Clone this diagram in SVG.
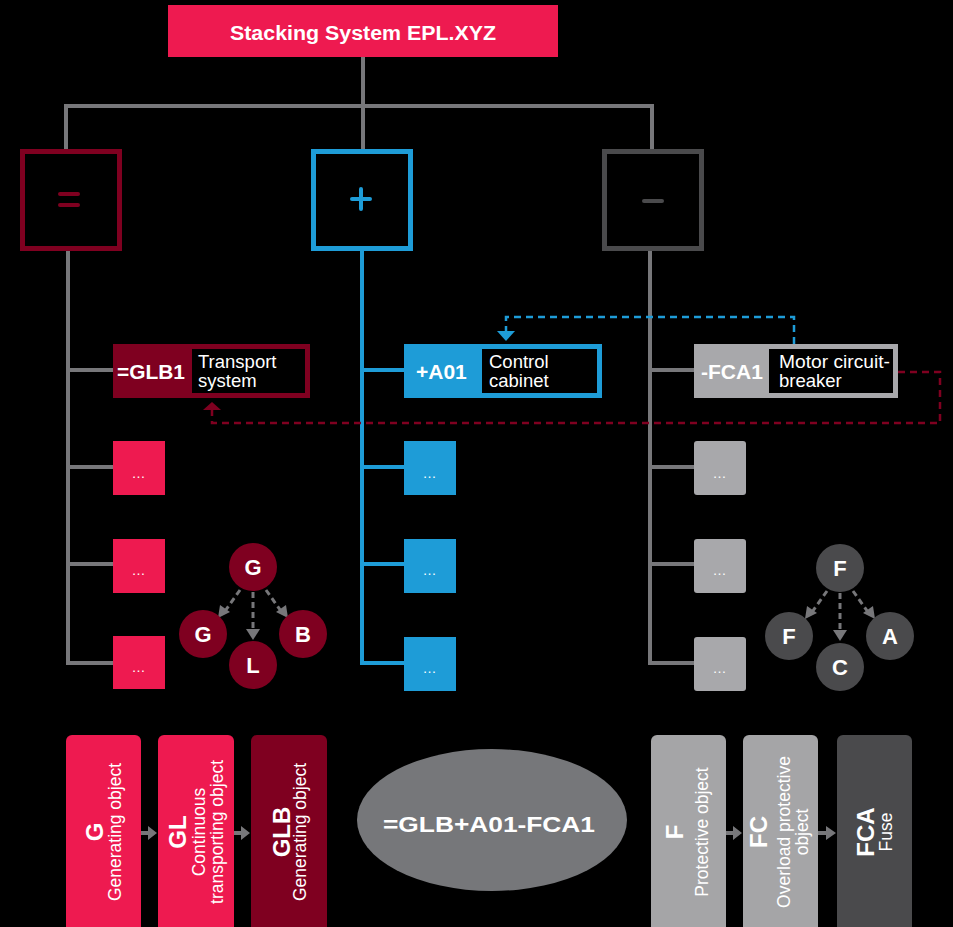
<svg xmlns="http://www.w3.org/2000/svg" width="953" height="927" viewBox="0 0 953 927">
<style>
text{font-family:"Liberation Sans",Arial,sans-serif;fill:#fff}
.b{font-weight:bold}
.ln{fill:none;stroke:#77777a;stroke-width:4}
.lb{fill:none;stroke:#1e9cd7;stroke-width:4}
.red{fill:#7f0020}
.pink{fill:#ee1a50}
.blue{fill:#1e9cd7}
.lg{fill:#a8a8ab}
.dg{fill:#4a4a4c}
.lbl{font-size:21px;font-weight:bold}
.desc{font-size:18.5px}
.dots{font-size:14px;text-anchor:middle;letter-spacing:1px}
.circ{font-size:22px;font-weight:bold;text-anchor:middle}
.rot{text-anchor:middle}
</style>
<rect width="953" height="927" fill="#000"/>

<g id="connectors">
<path class="ln" d="M363,57V106M66,150V106H652V150M363,106V150"/>
<path class="ln" d="M68,251V663H113M68,370H113M68,467H113M68,564H113"/>
<path class="lb" d="M362,251V663H404M362,370H404M362,467H404M362,564H404"/>
<path class="ln" d="M650,251V663H694M650,370H694M650,467H694M650,564H694"/>
<path d="M794,344V317H506V332" fill="none" stroke="#1e9cd7" stroke-width="2.5" stroke-dasharray="7,5"/>
<path d="M497,331L515,331L506,341z" fill="#1e9cd7"/>
<path d="M898,372H940V423H212V410" fill="none" stroke="#7f0020" stroke-width="2.5" stroke-dasharray="7,5"/>
<path d="M203,410L221,410L212,402z" fill="#7f0020"/>
<g stroke="#77777a" stroke-width="3" stroke-dasharray="6,4" fill="none">
<path d="M240,590L225,611"/><path d="M253,592V629"/><path d="M266,590L281,611"/>
<path d="M827,591L812,612"/><path d="M840,593V630"/><path d="M853,591L868,612"/>
</g>
<g fill="#77777a">
<path d="M218,618L220,605L230,612z"/><path d="M246,629L260,629L253,640z"/><path d="M288,618L286,605L276,612z"/>
<path d="M805,619L807,606L817,613z"/><path d="M833,630L847,630L840,641z"/><path d="M875,619L873,606L863,613z"/>
</g>
<g fill="#77777a">
<path d="M141,831H148V826L157,833L148,840V835H141z"/>
<path d="M234,831H241V826L250,833L241,840V835H234z"/>
<path d="M726,831H733V826L742,833L733,840V835H726z"/>
<path d="M818,831H826V826L836,833L826,840V835H818z"/>
</g>
</g>

<g id="root">
<rect x="168" y="5" width="390" height="52" class="pink"/>
<text x="363" y="40" class="b" font-size="20" text-anchor="middle" textLength="266" lengthAdjust="spacingAndGlyphs">Stacking System EPL.XYZ</text>
</g>

<g id="eq">
<rect x="22.5" y="151.5" width="97" height="97" fill="none" stroke="#7f0020" stroke-width="5"/>
<path d="M60,194H78M60,205H78" stroke="#7f0020" stroke-width="4" stroke-linecap="round"/>
</g>
<g id="plus">
<rect x="313.5" y="151.5" width="97" height="97" fill="none" stroke="#1e9cd7" stroke-width="5"/>
<path d="M352,199H370M361,189V209" stroke="#1e9cd7" stroke-width="4" stroke-linecap="round"/>
</g>
<g id="minus">
<rect x="604.5" y="151.5" width="97" height="97" fill="none" stroke="#4a4a4c" stroke-width="5"/>
<path d="M644,201H662" stroke="#4a4a4c" stroke-width="4" stroke-linecap="round"/>
</g>

<g id="glb1">
<rect x="113" y="344" width="197" height="54" class="red"/>
<rect x="192" y="349" width="113" height="44" fill="#000"/>
<text x="117" y="379" class="lbl" textLength="68" lengthAdjust="spacingAndGlyphs">=GLB1</text>
<text x="198" y="368" class="desc">Transport</text>
<text x="198" y="387" class="desc">system</text>
</g>
<g id="a01">
<rect x="404" y="344" width="198" height="54" class="blue"/>
<rect x="482" y="349" width="115" height="44" fill="#000"/>
<text x="416" y="379" class="lbl">+A01</text>
<text x="489" y="368" class="desc">Control</text>
<text x="489" y="387" class="desc">cabinet</text>
</g>
<g id="fca1">
<rect x="694" y="344" width="204" height="54" class="lg"/>
<rect x="769" y="349" width="124" height="44" fill="#000"/>
<text x="701" y="379" class="lbl">-FCA1</text>
<text x="779" y="368" class="desc" textLength="111" lengthAdjust="spacingAndGlyphs">Motor circuit-</text>
<text x="779" y="387" class="desc">breaker</text>
</g>

<g id="l1"><rect x="113" y="441" width="52" height="54" class="pink"/><text x="139" y="478" class="dots">…</text></g>
<g id="l2"><rect x="113" y="539" width="52" height="54" class="pink"/><text x="139" y="575" class="dots">…</text></g>
<g id="l3"><rect x="113" y="636" width="52" height="53" class="pink"/><text x="139" y="672" class="dots">…</text></g>
<g id="m1"><rect x="404" y="441" width="52" height="54" class="blue"/><text x="430" y="478" class="dots">…</text></g>
<g id="m2"><rect x="404" y="539" width="52" height="54" class="blue"/><text x="430" y="575" class="dots">…</text></g>
<g id="m3"><rect x="404" y="637" width="52" height="54" class="blue"/><text x="430" y="673" class="dots">…</text></g>
<g id="r1"><rect x="694" y="441" width="52" height="54" rx="3" class="lg"/><text x="720" y="478" class="dots">…</text></g>
<g id="r2"><rect x="694" y="539" width="52" height="54" rx="3" class="lg"/><text x="720" y="575" class="dots">…</text></g>
<g id="r3"><rect x="694" y="637" width="52" height="54" rx="3" class="lg"/><text x="720" y="673" class="dots">…</text></g>

<g id="cG"><circle cx="253" cy="567" r="24" class="red"/><text x="253" y="575" class="circ">G</text></g>
<g id="cG2"><circle cx="203" cy="634" r="24" class="red"/><text x="203" y="642" class="circ">G</text></g>
<g id="cL"><circle cx="253" cy="665" r="24" class="red"/><text x="253" y="673" class="circ">L</text></g>
<g id="cB"><circle cx="303" cy="634" r="24" class="red"/><text x="303" y="642" class="circ">B</text></g>
<g id="cF"><circle cx="840" cy="568" r="24" class="dg"/><text x="840" y="576" class="circ">F</text></g>
<g id="cF2"><circle cx="789" cy="636" r="24" class="dg"/><text x="789" y="644" class="circ">F</text></g>
<g id="cC"><circle cx="840" cy="667" r="24" class="dg"/><text x="840" y="675" class="circ">C</text></g>
<g id="cA"><circle cx="890" cy="636" r="24" class="dg"/><text x="890" y="644" class="circ">A</text></g>

<g id="bG">
<rect x="66" y="735" width="75" height="200" rx="6" class="pink"/>
<text transform="translate(103,832) rotate(-90)" class="rot b" font-size="24">G</text>
<text transform="translate(121,832) rotate(-90)" class="rot" font-size="17.5">Generating object</text>
</g>
<g id="bGL">
<rect x="158" y="735" width="76" height="200" rx="6" class="pink"/>
<text transform="translate(186,832) rotate(-90)" class="rot b" font-size="24">GL</text>
<text transform="translate(205,832) rotate(-90)" class="rot" font-size="17.5">Continuous</text>
<text transform="translate(223,832) rotate(-90)" class="rot" font-size="17.5">transporting object</text>
</g>
<g id="bGLB">
<rect x="251" y="735" width="76" height="200" rx="6" class="red"/>
<text transform="translate(290,832) rotate(-90)" class="rot b" font-size="24">GLB</text>
<text transform="translate(306,832) rotate(-90)" class="rot" font-size="17.5">Generating object</text>
</g>

<g id="code">
<ellipse cx="492" cy="820" rx="135" ry="71" fill="#76777a"/>
<text x="489" y="832" class="b" font-size="22" text-anchor="middle" textLength="212" lengthAdjust="spacingAndGlyphs">=GLB+A01-FCA1</text>
</g>

<g id="bF">
<rect x="651" y="735" width="75" height="200" rx="6" fill="#a5a5a7"/>
<text transform="translate(683,832) rotate(-90)" class="rot b" font-size="24">F</text>
<text transform="translate(708,832) rotate(-90)" class="rot" font-size="17.5">Protective object</text>
</g>
<g id="bFC">
<rect x="743" y="735" width="75" height="200" rx="6" fill="#a5a5a7"/>
<text transform="translate(767,832) rotate(-90)" class="rot b" font-size="24">FC</text>
<text transform="translate(790,832) rotate(-90)" class="rot" font-size="17.5">Overload protective</text>
<text transform="translate(808,832) rotate(-90)" class="rot" font-size="17.5">object</text>
</g>
<g id="bFCA">
<rect x="837" y="735" width="75" height="200" rx="6" class="dg"/>
<text transform="translate(874,832) rotate(-90)" class="rot b" font-size="24">FCA</text>
<text transform="translate(892,832) rotate(-90)" class="rot" font-size="17.5">Fuse</text>
</g>
</svg>
